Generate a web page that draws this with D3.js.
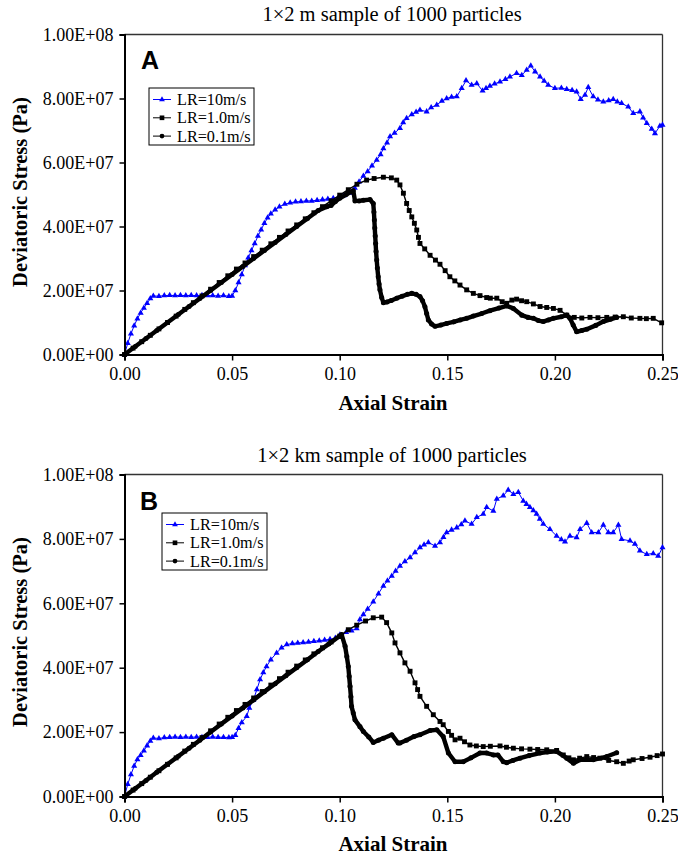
<!DOCTYPE html>
<html>
<head>
<meta charset="utf-8">
<script src="https://cdn.jsdelivr.net/npm/d3@7"></script>
<style>
  html, body { margin: 0; padding: 0; background: #fff; }
  svg text { font-family: "Liberation Serif", "Times New Roman", serif; }
</style>
</head>
<body>
<svg id="chart" width="678" height="855"></svg>
<script>
// Stress values are given in units of 1e7 Pa; strain is dimensionless.
const STRESS_UNIT = 1e7;

const xTicks = [0, 0.05, 0.10, 0.15, 0.20, 0.25];
const xTickLabels = ["0.00", "0.05", "0.10", "0.15", "0.20", "0.25"];
const yTicks = [0, 2e7, 4e7, 6e7, 8e7, 1e8];
const yTickLabels = ["0.00E+00", "2.00E+07", "4.00E+07", "6.00E+07", "8.00E+07", "1.00E+08"];

const seriesNames = ["LR=10m/s", "LR=1.0m/s", "LR=0.1m/s"];
const panelTitles = ["1\u00d72 m sample of 1000 particles", "1\u00d72 km sample of 1000 particles"];
const panelLetters = ["A", "B"];

// ---- Panel A : 1x2 m sample ----
const panelA_LR10 = [
  [0,0],[0.0015,0.35],[0.003,0.65],[0.0045,0.90],[0.006,1.12],[0.0075,1.30],[0.009,1.45],[0.0105,1.60],
  [0.012,1.75],[0.0134,1.83],[0.016,1.82],[0.0185,1.84],[0.021,1.85],[0.0235,1.84],[0.026,1.85],[0.0285,1.84],
  [0.031,1.85],[0.0335,1.84],[0.036,1.85],[0.0385,1.84],[0.041,1.84],[0.0435,1.83],[0.046,1.84],[0.0485,1.82],
  [0.050,1.83],[0.0515,2.00],[0.053,2.25],[0.0545,2.50],[0.056,2.78],[0.0575,3.02],[0.059,3.25],[0.0605,3.47],
  [0.062,3.70],[0.0635,3.90],[0.065,4.10],[0.0665,4.27],[0.068,4.40],[0.070,4.52],[0.072,4.62],[0.0745,4.70],
  [0.077,4.74],[0.0795,4.77],[0.082,4.78],[0.0845,4.80],[0.087,4.80],[0.0895,4.82],[0.092,4.84],[0.0945,4.86],
  [0.097,4.88],[0.0995,4.92],[0.102,4.97],[0.1045,5.05],[0.107,5.20],[0.109,5.40],[0.111,5.58],[0.113,5.72],
  [0.115,5.90],[0.1172,6.08],[0.119,6.25],[0.1203,6.44],[0.122,6.62],[0.1234,6.81],[0.1255,6.92],[0.128,7.07],
  [0.1295,7.25],[0.1311,7.38],[0.1335,7.50],[0.1355,7.58],[0.1373,7.64],[0.1404,7.59],[0.1425,7.72],[0.1451,7.80],
  [0.1475,7.92],[0.1497,8.00],[0.152,8.05],[0.1544,8.06],[0.1567,8.32],[0.1587,8.56],[0.1613,8.42],[0.1637,8.47],
  [0.1664,8.24],[0.168,8.32],[0.1698,8.39],[0.172,8.46],[0.1745,8.52],[0.177,8.60],[0.1791,8.68],[0.1822,8.79],
  [0.1846,8.73],[0.1869,8.89],[0.1888,9.02],[0.1908,8.84],[0.1931,8.68],[0.195,8.55],[0.1969,8.42],[0.200,8.32],
  [0.203,8.33],[0.2055,8.29],[0.208,8.26],[0.2101,8.21],[0.2120,7.98],[0.2140,8.11],[0.2155,8.35],[0.2178,8.06],
  [0.220,7.96],[0.2225,7.90],[0.225,7.94],[0.2271,7.98],[0.229,7.90],[0.2310,7.85],[0.2341,7.74],[0.2364,7.54],
  [0.2395,7.59],[0.241,7.40],[0.2427,7.23],[0.245,7.05],[0.2465,6.91],[0.2488,7.14],[0.250,7.17]
];
const panelA_LR1 = [
  [0,0],[0.004,0.20],[0.008,0.40],[0.012,0.60],[0.016,0.80],[0.020,1.00],[0.024,1.20],[0.028,1.41],
  [0.032,1.62],[0.036,1.83],[0.040,2.04],[0.044,2.25],[0.048,2.46],[0.052,2.67],[0.056,2.86],[0.060,3.06],
  [0.064,3.26],[0.068,3.46],[0.072,3.66],[0.076,3.86],[0.080,4.05],[0.084,4.24],[0.088,4.43],[0.092,4.62],
  [0.096,4.80],[0.100,4.98],[0.104,5.15],[0.108,5.32],[0.1125,5.45],[0.116,5.50],[0.1203,5.54],[0.124,5.52],
  [0.1265,5.45],[0.128,5.30],[0.1296,5.04],[0.1311,4.72],[0.1323,4.50],[0.1335,4.30],[0.1347,4.10],[0.1358,3.89],
  [0.1366,3.66],[0.1373,3.47],[0.1395,3.30],[0.142,3.10],[0.1445,2.95],[0.1466,2.82],[0.149,2.62],[0.1512,2.43],
  [0.1535,2.30],[0.1559,2.17],[0.159,2.02],[0.1621,1.91],[0.1652,1.84],[0.1683,1.78],[0.170,1.76],[0.173,1.76],
  [0.1755,1.65],[0.1776,1.60],[0.180,1.70],[0.1822,1.73],[0.1845,1.68],[0.1869,1.65],[0.190,1.58],[0.1931,1.50],
  [0.1962,1.47],[0.1993,1.44],[0.2024,1.38],[0.2055,1.23],[0.209,1.16],[0.2125,1.14],[0.2163,1.16],[0.220,1.15],
  [0.2241,1.16],[0.228,1.17],[0.2318,1.18],[0.2355,1.14],[0.2395,1.13],[0.2425,1.12],[0.2457,1.13],[0.2496,0.99]
];
const panelA_LR01 = [
  [0,0],[0.005,0.25],[0.010,0.50],[0.015,0.75],[0.020,1.00],[0.025,1.25],[0.030,1.50],[0.035,1.75],
  [0.040,2.00],[0.045,2.25],[0.050,2.50],[0.055,2.75],[0.060,3.00],[0.065,3.25],[0.070,3.50],[0.075,3.75],
  [0.080,4.00],[0.085,4.25],[0.090,4.50],[0.094,4.62],[0.096,4.66],[0.098,4.78],[0.100,4.88],[0.103,5.00],
  [0.1063,5.12],[0.1071,4.80],[0.109,4.80],[0.111,4.82],[0.1141,4.84],[0.1156,4.72],[0.1159,4.45],[0.1161,4.20],
  [0.1163,3.95],[0.1165,3.70],[0.1167,3.47],[0.1169,3.22],[0.1172,2.95],[0.1175,2.70],[0.1179,2.43],[0.1183,2.20],
  [0.1187,2.02],[0.1195,1.78],[0.1203,1.62],[0.122,1.64],[0.124,1.69],[0.1265,1.76],[0.129,1.82],[0.1315,1.88],
  [0.1335,1.91],[0.1355,1.88],[0.1373,1.81],[0.1385,1.68],[0.1396,1.49],[0.1404,1.28],[0.1412,1.08],[0.1427,0.95],
  [0.1443,0.88],[0.147,0.92],[0.1497,0.97],[0.153,1.02],[0.156,1.08],[0.159,1.13],[0.1621,1.20],[0.166,1.28],
  [0.1698,1.37],[0.174,1.45],[0.1776,1.52],[0.1807,1.44],[0.1846,1.23],[0.1875,1.16],[0.190,1.13],[0.1923,1.06],
  [0.1946,1.03],[0.197,1.08],[0.1993,1.13],[0.203,1.18],[0.2055,1.23],[0.207,1.13],[0.2085,0.92],[0.2101,0.71],
  [0.2125,0.75],[0.2148,0.79],[0.219,0.91],[0.2225,1.03],[0.2258,1.10],[0.2287,1.16]
];

// ---- Panel B : 1x2 km sample ----
const panelB_LR10 = [
  [0,0],[0.0015,0.38],[0.003,0.68],[0.0045,0.95],[0.006,1.15],[0.0075,1.28],[0.009,1.42],[0.0105,1.58],
  [0.012,1.72],[0.0134,1.82],[0.016,1.80],[0.0185,1.83],[0.021,1.84],[0.0235,1.85],[0.026,1.84],[0.0285,1.85],
  [0.031,1.84],[0.0335,1.85],[0.036,1.84],[0.0385,1.84],[0.041,1.85],[0.0435,1.84],[0.046,1.84],[0.0485,1.83],
  [0.050,1.84],[0.0515,1.90],[0.053,2.12],[0.0545,2.30],[0.0568,2.49],[0.058,2.75],[0.0599,3.00],[0.0615,3.32],
  [0.063,3.63],[0.0645,3.85],[0.066,4.04],[0.068,4.25],[0.0707,4.46],[0.073,4.62],[0.0754,4.72],[0.078,4.75],
  [0.0805,4.77],[0.083,4.78],[0.0855,4.80],[0.088,4.82],[0.0905,4.84],[0.093,4.86],[0.0955,4.88],[0.098,4.92],
  [0.1001,5.02],[0.103,5.10],[0.1055,5.15],[0.1079,5.22],[0.1094,5.50],[0.111,5.65],[0.113,5.82],[0.1156,6.05],
  [0.118,6.30],[0.1203,6.54],[0.1222,6.70],[0.1242,6.85],[0.126,7.00],[0.128,7.16],[0.1303,7.30],[0.1327,7.42],
  [0.135,7.58],[0.1373,7.73],[0.1392,7.82],[0.1412,7.89],[0.1443,7.78],[0.1466,7.89],[0.1482,8.05],[0.1497,8.20],
  [0.152,8.28],[0.1544,8.35],[0.1565,8.45],[0.1582,8.56],[0.1613,8.46],[0.1637,8.67],[0.1667,8.77],[0.1683,8.98],
  [0.1714,8.87],[0.173,9.24],[0.176,9.34],[0.1783,9.52],[0.1807,9.39],[0.183,9.45],[0.1853,9.18],[0.1868,9.08],
  [0.1884,8.98],[0.190,8.88],[0.1915,8.77],[0.193,8.62],[0.1946,8.46],[0.1977,8.30],[0.2008,8.09],[0.203,7.98],
  [0.2047,7.91],[0.207,8.09],[0.2101,8.04],[0.2117,8.30],[0.2148,8.49],[0.2171,8.20],[0.2202,8.20],[0.2225,8.43],
  [0.2248,8.20],[0.2271,8.20],[0.2295,8.43],[0.231,7.99],[0.2349,7.94],[0.2372,7.84],[0.2395,7.63],[0.2427,7.52],
  [0.2457,7.55],[0.248,7.47],[0.250,7.73]
];
const panelB_LR1 = [
  [0,0],[0.004,0.20],[0.008,0.40],[0.012,0.60],[0.016,0.80],[0.020,1.00],[0.024,1.20],[0.028,1.41],
  [0.032,1.62],[0.036,1.83],[0.040,2.04],[0.044,2.25],[0.048,2.46],[0.052,2.67],[0.056,2.86],[0.060,3.06],
  [0.064,3.26],[0.068,3.46],[0.072,3.66],[0.076,3.86],[0.080,4.05],[0.084,4.24],[0.088,4.43],[0.092,4.62],
  [0.096,4.80],[0.100,4.98],[0.104,5.18],[0.1079,5.32],[0.112,5.45],[0.1156,5.55],[0.1195,5.57],[0.1218,5.40],
  [0.1242,5.08],[0.1257,4.77],[0.128,4.46],[0.1303,4.15],[0.1327,3.89],[0.135,3.53],[0.1362,3.32],[0.1373,3.11],
  [0.1404,2.80],[0.1435,2.54],[0.1466,2.33],[0.1481,2.23],[0.1505,2.02],[0.152,1.90],[0.1536,1.76],[0.1559,1.81],
  [0.158,1.70],[0.1605,1.60],[0.1635,1.57],[0.1667,1.55],[0.170,1.56],[0.1745,1.57],[0.1775,1.53],[0.1807,1.50],
  [0.1845,1.48],[0.1884,1.47],[0.192,1.46],[0.1962,1.45],[0.2008,1.43],[0.2039,1.29],[0.2065,1.20],[0.2086,1.14],
  [0.2115,1.19],[0.2148,1.24],[0.218,1.21],[0.2209,1.19],[0.225,1.12],[0.2287,1.08],[0.2318,1.03],[0.2345,1.10],
  [0.2364,1.14],[0.2405,1.18],[0.2442,1.22],[0.2475,1.27],[0.250,1.32]
];
const panelB_LR01 = [
  [0,0],[0.005,0.25],[0.010,0.50],[0.015,0.75],[0.020,1.00],[0.025,1.25],[0.030,1.50],[0.035,1.75],
  [0.040,2.00],[0.045,2.25],[0.050,2.50],[0.055,2.75],[0.060,3.00],[0.065,3.25],[0.070,3.50],[0.075,3.75],
  [0.080,4.00],[0.085,4.25],[0.090,4.50],[0.095,4.74],[0.1009,5.03],[0.1025,4.67],[0.1033,4.35],[0.104,4.04],
  [0.1044,3.73],[0.1048,3.42],[0.1052,3.10],[0.1055,2.80],[0.1063,2.59],[0.1071,2.38],[0.1094,2.17],[0.111,2.02],
  [0.1135,1.85],[0.1156,1.68],[0.118,1.75],[0.1203,1.81],[0.1242,1.92],[0.1272,1.66],[0.128,1.66],[0.131,1.75],
  [0.1345,1.86],[0.1373,1.92],[0.142,2.05],[0.1451,2.07],[0.1481,1.86],[0.1505,1.35],[0.1536,1.08],[0.1574,1.08],
  [0.161,1.20],[0.1652,1.35],[0.1683,1.35],[0.1714,1.29],[0.1735,1.29],[0.176,1.08],[0.1776,1.05],[0.1805,1.12],
  [0.1838,1.19],[0.188,1.27],[0.1931,1.35],[0.1965,1.38],[0.2008,1.40],[0.2055,1.19],[0.2086,1.03],[0.2117,1.14],
  [0.2178,1.14],[0.2241,1.24],[0.2287,1.36]
];

const panels = [
  { top: 34.5, bottom: 354.5, series: [panelA_LR10, panelA_LR1, panelA_LR01],
    titleY: 21, letterPos: [141, 69], legend: { x: 149, y: 88 }, xLabelY: 380, xTitleY: 410, yTitleY: 192 },
  { top: 474.5, bottom: 796.5, series: [panelB_LR10, panelB_LR1, panelB_LR01],
    titleY: 462, letterPos: [140, 510], legend: { x: 162, y: 513 }, xLabelY: 822, xTitleY: 851, yTitleY: 632 }
];

const left = 124.5, right = 662.5;
const svg = d3.select("#chart");

// Per-series look: blue triangles, black squares, black circles (dense enough to read as a thick line)
const styles = [
  { color: "#0000ff", symbol: d3.symbolTriangle, size: 16, width: 1 },
  { color: "#000000", symbol: d3.symbolSquare, size: 24, width: 1.4 },
  { color: "#000000", symbol: d3.symbolCircle, size: 20, width: 4.4 }
];

panels.forEach((p, pi) => {
  const g = svg.append("g");
  const x = d3.scaleLinear().domain([0, 0.25]).range([left, right]);
  const y = d3.scaleLinear().domain([0, 1e8]).range([p.bottom, p.top]);

  // plot frame: top and right edges
  g.append("line").attr("x1", left).attr("x2", right).attr("y1", p.top).attr("y2", p.top)
    .attr("stroke", "#333").attr("stroke-width", 1.3);
  g.append("line").attr("x1", right).attr("x2", right).attr("y1", p.top).attr("y2", p.bottom)
    .attr("stroke", "#333").attr("stroke-width", 1.3);

  // series (first listed drawn first)
  const line = d3.line().x(d => x(d[0])).y(d => y(d[1] * STRESS_UNIT));
  p.series.forEach((data, si) => {
    const st = styles[si];
    const sg = g.append("g");
    sg.append("path").datum(data).attr("d", line)
      .attr("fill", "none").attr("stroke", st.color).attr("stroke-width", st.width)
      .attr("stroke-linejoin", "round").attr("stroke-linecap", "round");
    sg.selectAll("path.m").data(data).join("path").attr("class", "m")
      .attr("d", d3.symbol().type(st.symbol).size(st.size))
      .attr("transform", d => `translate(${x(d[0])},${y(d[1] * STRESS_UNIT)})`)
      .attr("fill", st.color);
  });

  // axes
  const xAxis = d3.axisBottom(x).tickValues(xTicks).tickSize(6)
    .tickFormat((d, i) => xTickLabels[i]);
  const gx = g.append("g").attr("transform", `translate(0,${p.bottom})`).call(xAxis);
  gx.select(".domain").attr("stroke", "#000").attr("stroke-width", 2);
  gx.selectAll(".tick line").attr("stroke", "#000").attr("stroke-width", 1.5);
  gx.selectAll(".tick text").attr("font-size", 18).attr("fill", "#000")
    .attr("font-family", "Liberation Serif").attr("dy", null).attr("y", p.xLabelY - p.bottom);

  const yAxis = d3.axisLeft(y).tickValues(yTicks).tickSize(5)
    .tickFormat((d, i) => yTickLabels[i]);
  const gy = g.append("g").attr("transform", `translate(${left},0)`).call(yAxis);
  gy.select(".domain").attr("stroke", "#000").attr("stroke-width", 2);
  gy.selectAll(".tick line").attr("stroke", "#000").attr("stroke-width", 1.5);
  gy.selectAll(".tick text").attr("font-size", 18).attr("fill", "#000")
    .attr("font-family", "Liberation Serif").attr("x", -11);

  // titles
  g.append("text").attr("x", 392).attr("y", p.titleY).attr("text-anchor", "middle")
    .attr("font-size", 20.5).text(panelTitles[pi]);
  g.append("text").attr("x", 393).attr("y", p.xTitleY).attr("text-anchor", "middle")
    .attr("font-size", 21).attr("font-weight", "bold").text("Axial Strain");
  g.append("text").attr("transform", `translate(27,${p.yTitleY}) rotate(-90)`)
    .attr("text-anchor", "middle").attr("font-size", 20.5).attr("font-weight", "bold")
    .text("Deviatoric Stress (Pa)");
  g.append("text").attr("x", p.letterPos[0]).attr("y", p.letterPos[1])
    .style("font-family", "Liberation Sans, Arial, sans-serif")
    .attr("font-size", 25).attr("font-weight", "bold").text(panelLetters[pi]);

  // legend
  const lg = g.append("g").attr("transform", `translate(${p.legend.x},${p.legend.y})`);
  lg.append("rect").attr("x", 0).attr("y", 0).attr("width", 105).attr("height", 57)
    .attr("fill", "#fff").attr("stroke", "#000").attr("stroke-width", 1);
  seriesNames.forEach((name, si) => {
    const st = styles[si];
    const cy = 11.5 + si * 18.3;
    lg.append("line").attr("x1", 4).attr("x2", 22).attr("y1", cy).attr("y2", cy)
      .attr("stroke", st.color).attr("stroke-width", 1);
    lg.append("path").attr("d", d3.symbol().type(st.symbol).size(st.size * 0.9)())
      .attr("transform", `translate(13,${cy})`).attr("fill", st.color);
    lg.append("text").attr("x", 28).attr("y", cy + 5.5).attr("font-size", 16.2).text(name);
  });
});
</script>
</body>
</html>
